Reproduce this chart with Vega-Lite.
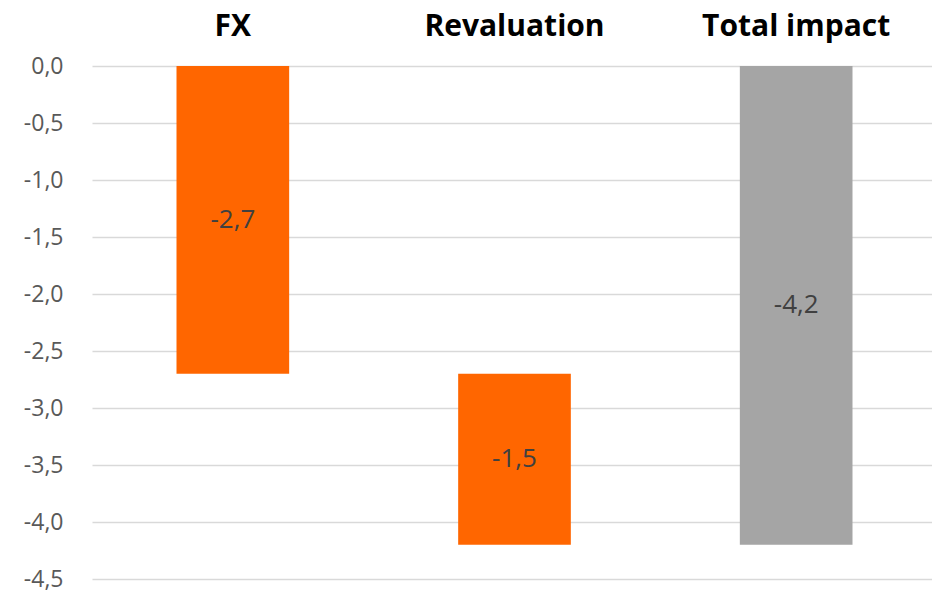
{
  "$schema": "https://vega.github.io/schema/vega-lite/v6.json",
  "width": 845,
  "height": 513,
  "autosize": "none",
  "padding": {"left": 92, "top": 66, "right": 0, "bottom": 14},
  "background": "white",
  "config": {"view": {"stroke": null}},
  "data": {
    "values": [
      {"category": "FX", "start": 0, "end": -2.7, "value": -2.7, "type": "change"},
      {"category": "Revaluation", "start": -2.7, "end": -4.2, "value": -1.5, "type": "change"},
      {"category": "Total impact", "start": 0, "end": -4.2, "value": -4.2, "type": "total"}
    ]
  },
  "transform": [
    {"calculate": "(datum.start + datum.end) / 2", "as": "mid"},
    {"calculate": "replace(replace(format(datum.value, '.1f'), '.', ','), '−', '-')", "as": "label"}
  ],
  "encoding": {
    "x": {
      "field": "category",
      "type": "nominal",
      "sort": null,
      "scale": {"paddingInner": 0.6, "paddingOuter": 0.3},
      "axis": {
        "orient": "top",
        "title": null,
        "domain": false,
        "ticks": false,
        "labelAngle": 0,
        "labelFont": "Open Sans",
        "labelFontWeight": "bold",
        "labelFontSize": 30,
        "labelColor": "#000000",
        "labelPadding": 25,
        "labelLimit": 0
      }
    }
  },
  "layer": [
    {
      "mark": {"type": "bar"},
      "encoding": {
        "y": {
          "field": "start",
          "type": "quantitative",
          "scale": {"domain": [-4.5, 0], "nice": false, "zero": false},
          "axis": {
            "title": null,
            "values": [0, -0.5, -1, -1.5, -2, -2.5, -3, -3.5, -4, -4.5],
            "labelExpr": "replace(replace(format(datum.value, '.1f'), '.', ','), '−', '-')",
            "domain": false,
            "ticks": false,
            "grid": true,
            "gridColor": "#d9d9d9",
            "gridWidth": 1.5,
            "labelFont": "Open Sans",
            "labelFontSize": 23,
            "labelColor": "#595959",
            "labelPadding": 29
          }
        },
        "y2": {"field": "end"},
        "color": {
          "field": "type",
          "type": "nominal",
          "scale": {"domain": ["change", "total"], "range": ["#FF6600", "#A5A5A5"]},
          "legend": null
        }
      }
    },
    {
      "mark": {"type": "text", "font": "Open Sans", "fontSize": 26, "color": "#404040", "baseline": "middle"},
      "encoding": {
        "y": {"field": "mid", "type": "quantitative"},
        "text": {"field": "label", "type": "nominal"}
      }
    }
  ]
}
